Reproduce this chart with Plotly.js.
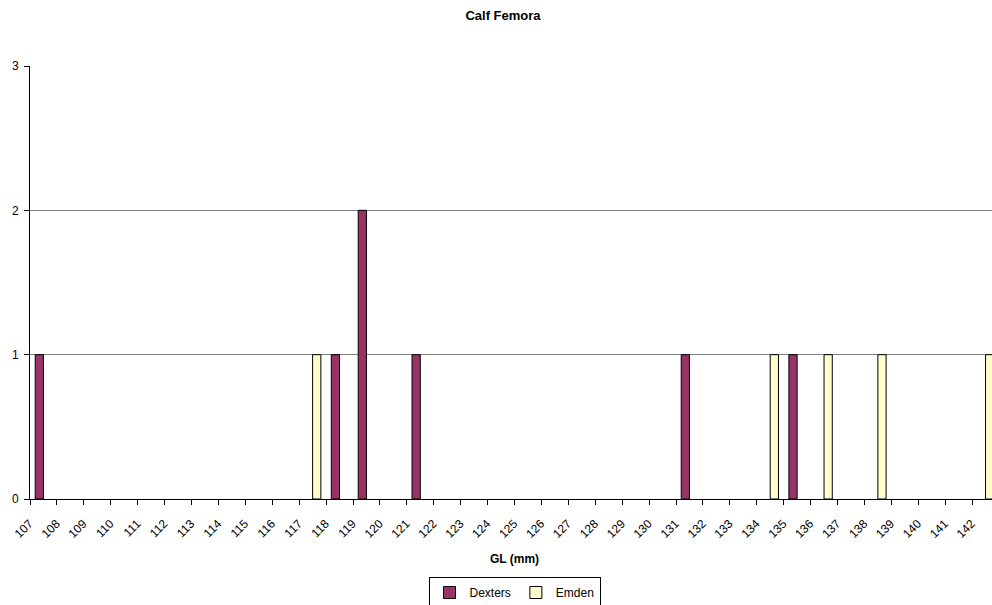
<!DOCTYPE html>
<html>
<head>
<meta charset="utf-8">
<script src="https://cdn.plot.ly/plotly-3.0.1.min.js"></script>
<style>
html, body { margin: 0; padding: 0; overflow: hidden; background: #fff; }
#chart { width: 1010px; height: 605px; }
</style>
</head>
<body>
<div id="chart"></div>
<script>
const categories = ["107","108","109","110","111","112","113","114","115","116","117","118","119","120","121","122","123","124","125","126","127","128","129","130","131","132","133","134","135","136","137","138","139","140","141","142"];
const dexters = [1,0,0,0,0,0,0,0,0,0,0,1,2,0,1,0,0,0,0,0,0,0,0,0,1,0,0,0,1,0,0,0,0,0,0,0];
const emden   = [0,0,0,0,0,0,0,0,0,0,1,0,0,0,0,0,0,0,0,0,0,0,0,0,0,0,0,1,0,1,0,1,0,0,0,1];
const yTicks = [0,1,2,3];

// zero counts are not drawn as bars (no outline sliver on the baseline)
const shown = vals => vals.map(v => (v > 0 ? v : null));

const traces = [
  { type: "bar", name: "Dexters", x: categories, y: shown(dexters),
    marker: { color: "#993366", line: { color: "#000000", width: 1 } } },
  { type: "bar", name: "Emden", x: categories, y: shown(emden),
    marker: { color: "#FFFFCC", line: { color: "#000000", width: 1 } } }
];

const layout = {
  width: 1010, height: 605,
  margin: { l: 30, r: 11, t: 66, b: 106 },
  paper_bgcolor: "#ffffff", plot_bgcolor: "#ffffff",
  font: { family: "Arial, 'Liberation Sans', sans-serif", color: "#000000", size: 11 },
  title: { text: "<b>Calf Femora</b>", font: { size: 13 }, x: 0.498, xref: "container",
           y: 1 - 15/605, yref: "container", yanchor: "middle" },
  barmode: "group", bargap: 0.387, bargroupgap: 0,
  showlegend: true,
  legend: { orientation: "h", xref: "container", x: 514.5/1010, xanchor: "center",
            yref: "container", y: 1 - 577/605, yanchor: "top",
            bordercolor: "#000000", borderwidth: 1, font: { size: 12 },
            itemwidth: 30, traceorder: "normal" },
  xaxis: {
    type: "category", tickson: "boundaries", ticks: "outside", ticklen: 5, tickcolor: "#000",
    showline: true, linecolor: "#000", linewidth: 1, showgrid: false, tickangle: -45,
    ticklabelshift: -14, ticklabelstandoff: 12, tickfont: { size: 12 }, automargin: false,
    title: { text: "<b>GL (mm)</b>", font: { size: 12 }, standoff: 14 }
  },
  yaxis: {
    range: [0, 3], tickvals: yTicks, ticks: "outside", ticklen: 5, tickcolor: "#000",
    showline: true, linecolor: "#000", linewidth: 1, showgrid: true, gridcolor: "#808080",
    zeroline: false, tickfont: { size: 12 }, ticklabelstandoff: 3, automargin: false
  }
};

Plotly.newPlot("chart", traces, layout, { displayModeBar: false, staticPlot: true });
</script>
</body>
</html>
